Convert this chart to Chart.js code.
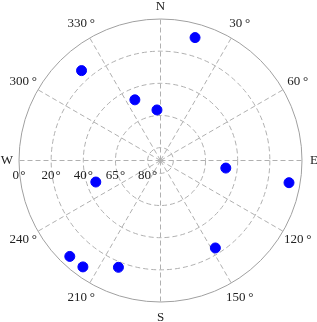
<!DOCTYPE html>
<html>
<head>
<meta charset="utf-8">
<script src="https://cdn.jsdelivr.net/npm/chart.js@4"></script>
<style>
  html, body { margin: 0; padding: 0; background: #fff; }
  #wrap { width: 317px; height: 322px; }
</style>
</head>
<body>
<div id="wrap"><canvas id="sky"></canvas></div>
<script>
// satellites: azimuth (deg, clockwise from N) and elevation (deg)
var azimuth   = [15.7, 318.7, 337.1, 356.0, 96.6, 99.8, 251.6, 147.9, 223.4, 216.1, 201.5];
var elevation = [8.6, 13.6, 48.8, 60.6, 48.9, 6.9, 47.0, 23.8, 5.9, 6.1, 16.6];

// elevation rings and where they sit on the plot radius (rings are evenly spaced)
var ringElev   = [0, 20, 40, 65, 80];
var ringRadius = [4.4, 3.4, 2.4, 1.4, 0.4];
var azSpokes   = [0, 30, 60, 90, 120, 150, 180, 210, 240, 270, 300, 330];
var azLabels   = ['N', '30\u2009°', '60\u2009°', 'E', '120\u2009°', '150\u2009°', 'S', '210\u2009°', '240\u2009°', 'W', '300\u2009°', '330\u2009°'];

function elevToRadius(el) {
    var e = ringElev.concat([90]);
    var r = ringRadius.concat([0]);
    for (var i = 0; i < e.length - 1; i++) {
        if (el >= e[i] && el <= e[i + 1]) {
            return r[i] + (r[i + 1] - r[i]) * (el - e[i]) / (e[i + 1] - e[i]);
        }
    }
    return 0;
}

var points = azimuth.map(function (az, i) {
    var r = elevToRadius(elevation[i]);
    var a = az * Math.PI / 180;
    return { x: r * Math.sin(a), y: r * Math.cos(a) };
});

var skyGrid = {
    id: 'skyGrid',
    beforeDatasetsDraw: function (chart) {
        var ctx = chart.ctx;
        var xs = chart.scales.x, ys = chart.scales.y;
        var cx = xs.getPixelForValue(0), cy = ys.getPixelForValue(0);
        var unit = xs.getPixelForValue(1) - cx;
        var outer = ringRadius[0] * unit;
        ctx.save();
        ctx.strokeStyle = '#b0b0b0';
        ctx.lineWidth = 1;
        // dashed inner rings
        ctx.setLineDash([5, 3]);
        for (var i = 1; i < ringRadius.length; i++) {
            ctx.beginPath();
            ctx.arc(cx, cy, ringRadius[i] * unit, 0, Math.PI * 2);
            ctx.stroke();
        }
        // spokes
        azSpokes.forEach(function (az) {
            var a = az * Math.PI / 180;
            ctx.beginPath();
            ctx.moveTo(cx, cy);
            ctx.lineTo(cx + outer * Math.sin(a), cy - outer * Math.cos(a));
            ctx.stroke();
        });
        // outer ring
        ctx.setLineDash([]);
        ctx.strokeStyle = '#a0a0a0';
        ctx.beginPath();
        ctx.arc(cx, cy, outer, 0, Math.PI * 2);
        ctx.stroke();

        // azimuth labels
        ctx.fillStyle = '#222';
        ctx.font = '13px "Liberation Serif", "DejaVu Serif", serif';
        ctx.textAlign = 'center';
        ctx.textBaseline = 'middle';
        azSpokes.forEach(function (az, i) {
            var a = az * Math.PI / 180;
            var rr = (az % 90 === 0) ? outer + 12 : outer + 17;
            if (az === 180) rr = outer + 16;
            ctx.fillText(azLabels[i], cx + rr * Math.sin(a), cy - rr * Math.cos(a));
        });
        // elevation labels along the west spoke
        ringElev.forEach(function (el, i) {
            ctx.fillText(el + '\u200a°', cx - ringRadius[i] * unit, cy + 15);
        });
        ctx.restore();
    }
};

new Chart(document.getElementById('sky'), {
    type: 'scatter',
    data: {
        datasets: [{
            data: points,
            backgroundColor: '#0000ff',
            borderColor: '#0000ff',
            pointRadius: 5,
            pointHoverRadius: 5
        }]
    },
    options: {
        responsive: true,
        maintainAspectRatio: false,
        animation: false,
        layout: { padding: { left: 19, right: 15, top: 19, bottom: 20 } },
        plugins: { legend: { display: false }, tooltip: { enabled: false } },
        scales: {
            x: { display: false, min: -4.4, max: 4.4 },
            y: { display: false, min: -4.4, max: 4.4 }
        }
    },
    plugins: [skyGrid]
});
</script>
</body>
</html>
